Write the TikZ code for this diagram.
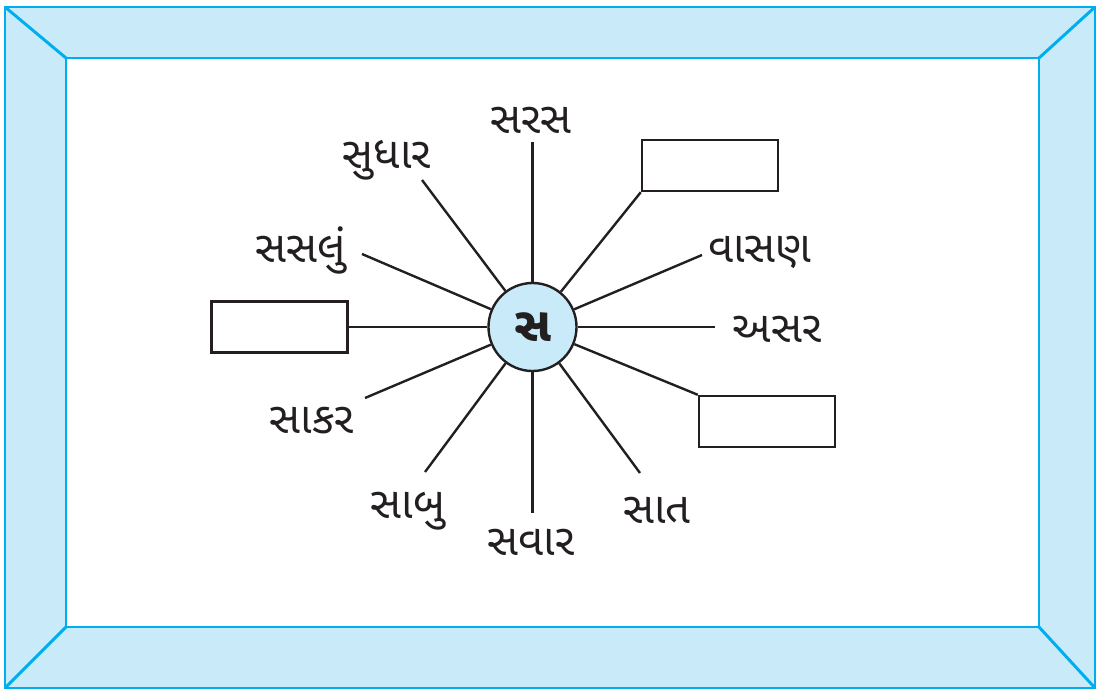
\documentclass[tikz,border=0pt]{standalone}
\usepackage{fontspec}
\newfontfamily\gujfont[Script=Gujarati]{Noto Sans Gujarati UI}
\usepackage{tikz}
\usetikzlibrary{positioning}
\usepackage{xcolor}
\definecolor{framefill}{RGB}{200,234,249}
\definecolor{framecyan}{RGB}{0,174,239}
\definecolor{inkblack}{RGB}{35,31,32}

\begin{document}
\begin{tikzpicture}[x=0.025cm, y=-0.025cm,
    word/.style={font=\gujfont\fontsize{31}{37}\selectfont, anchor=base, inner sep=0pt, text=inkblack},
    blank/.style={draw=inkblack, line width=1.7pt, minimum width=3.4cm, minimum height=1.275cm, inner sep=0pt},
    spoke/.style={draw=inkblack, line width=1.7pt},
    rim/.style={draw=framecyan, line width=2.1pt}]

\useasboundingbox (0,0) rectangle (1103,690);

% Frame
\fill[framefill] (5,7) rectangle (1095,688);
\fill[white] (66,58) rectangle (1039,627);
\draw[rim] (5,7) rectangle (1095,688);
\draw[rim] (66,58) rectangle (1039,627);
\draw[rim] (5,7) -- (66,58);
\draw[rim] (1095,7) -- (1039,58);
\draw[rim] (5,688) -- (66,627);
\draw[rim] (1095,688) -- (1039,627);

% Centre letter
\node[circle, draw=inkblack, fill=framefill, line width=1.7pt, minimum size=2.2cm, inner sep=0pt,
      font=\gujfont\bfseries\fontsize{34}{40}\selectfont, text=inkblack] (sa) at (532.5,327) {સ};

% Words
\foreach \id/\word/\x/\y in {sarasa/સરસ/531/133, sudhar/સુધાર/387/168, sasalu/સસલું/301/262,
    sakar/સાકર/312/433, sabu/સાબુ/408/518, savar/સવાર/531/555,
    sat/સાત/657/523, vasan/વાસણ/760/262, asar/અસર/777/342}
    \node[word] (\id) at (\x,\y) {\word};

% Empty boxes
\node[blank] (box-tr) at (710,165.5) {};
\node[blank] (box-l) at (279.5,327) {};
\node[blank] (box-br) at (767,421.5) {};

% Spokes
\foreach \id/\x/\y in {sarasa/532.5/142, sudhar/422/180, sasalu/362/254, sakar/365/398,
    sabu/425/472, savar/532.5/513, sat/640/473, vasan/702/255, asar/715/327}
{
    \coordinate (end-\id) at (\x,\y);
    \draw[spoke] (sa) -- (end-\id);
}
\draw[spoke] (sa) -- (box-tr.south west);
\draw[spoke] (sa) -- (box-l.east);
\draw[spoke] (sa) -- (box-br.north west);

\end{tikzpicture}
\end{document}
